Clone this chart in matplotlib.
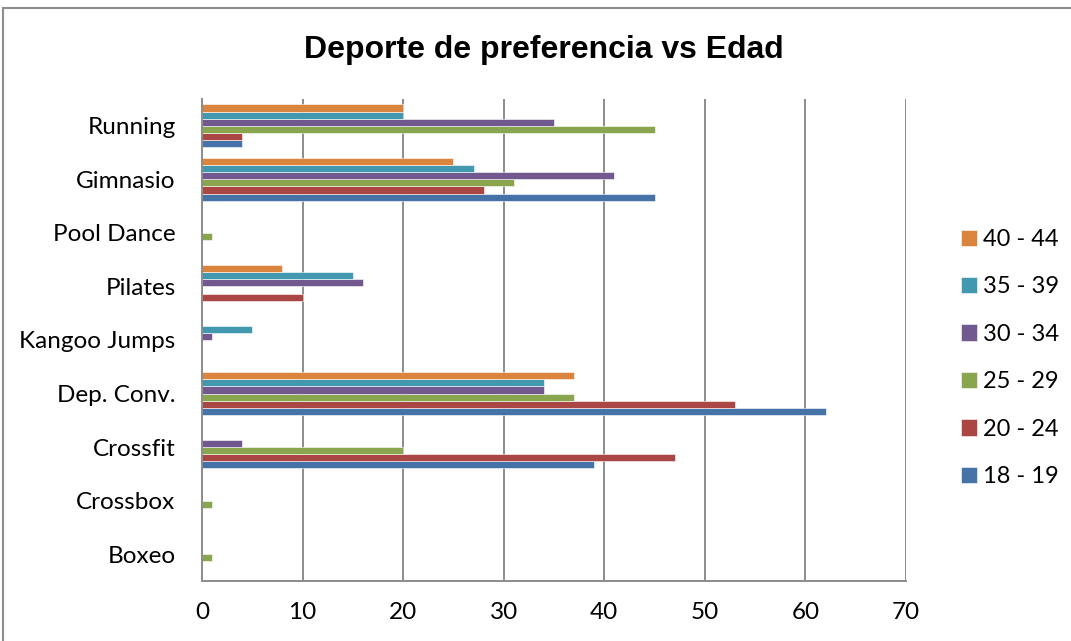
import numpy as np
import matplotlib.pyplot as plt
from matplotlib.patches import Rectangle

# Sports (bottom to top) and number of people per age group
deportes = ['Boxeo', 'Crossbox', 'Crossfit', 'Dep. Conv.', 'Kangoo Jumps',
            'Pilates', 'Pool Dance', 'Gimnasio', 'Running']
edades = ['18 - 19', '20 - 24', '25 - 29', '30 - 34', '35 - 39', '40 - 44']

e18_19 = [0, 0, 39, 62, 0, 0, 0, 45, 4]
e20_24 = [0, 0, 47, 53, 0, 10, 0, 28, 4]
e25_29 = [1, 1, 20, 37, 0, 0, 1, 31, 45]
e30_34 = [0, 0, 4, 34, 1, 16, 0, 41, 35]
e35_39 = [0, 0, 0, 34, 5, 15, 0, 27, 20]
e40_44 = [0, 0, 0, 37, 0, 8, 0, 25, 20]

colores = ['#4572A7', '#AA4643', '#89A54E', '#71588F', '#4198AF', '#DB843D']

fig = plt.figure(figsize=(10.71, 6.41), dpi=100)
ax = fig.add_axes([202 / 1071, 1 - 581 / 641, 704 / 1071, 482 / 641])

y = np.arange(len(deportes))
h = 0.133
series = [e18_19, e20_24, e25_29, e30_34, e35_39, e40_44]
for i, (vals, lab, c) in enumerate(zip(series, edades, colores)):
    ax.barh(y + (i - 2.5) * h, vals, height=h, color=c, label=lab,
            edgecolor='white', linewidth=0.4, zorder=3)

ax.set_xlim(0, 70)
ax.set_ylim(-0.5, len(deportes) - 0.5)
ax.set_xticks(range(0, 71, 10))
ax.set_yticks(y)
ax.set_yticklabels(deportes)
ax.grid(axis='x', color='#8c8c8c', linewidth=1.4, zorder=0)
for s in ['top', 'right']:
    ax.spines[s].set_visible(False)
for s in ['left', 'bottom']:
    ax.spines[s].set_color('#8c8c8c')
    ax.spines[s].set_linewidth(1.4)
    ax.spines[s].set_zorder(4)
ax.tick_params(length=0, labelsize=17.5, colors='black')
ax.tick_params(axis='x', pad=15)
ax.tick_params(axis='y', pad=19)
for t in ax.get_xticklabels() + ax.get_yticklabels():
    t.set_family('Lato')

handles, labels = ax.get_legend_handles_labels()
fig.legend(handles[::-1], labels[::-1], loc='center left',
           bbox_to_anchor=(940 / 1071, 1 - 358 / 641), frameon=False,
           prop={'family': 'Lato', 'size': 17}, handlelength=0.68,
           handleheight=0.68, handletextpad=0.25, labelspacing=1.12)

fig.text(544 / 1071, 1 - 50 / 641, 'Deporte de preferencia vs Edad',
         ha='center', va='center', fontsize=23, fontweight='bold',
         family='Liberation Sans')

# outer chart frame
fig.patches.append(Rectangle((3 / 1071, -0.1), 1.2, 1 - 8 / 641 + 0.1,
                             transform=fig.transFigure, fill=False,
                             edgecolor='#8c8c8c', linewidth=1.5))

fig.savefig('out.png', dpi=100)
